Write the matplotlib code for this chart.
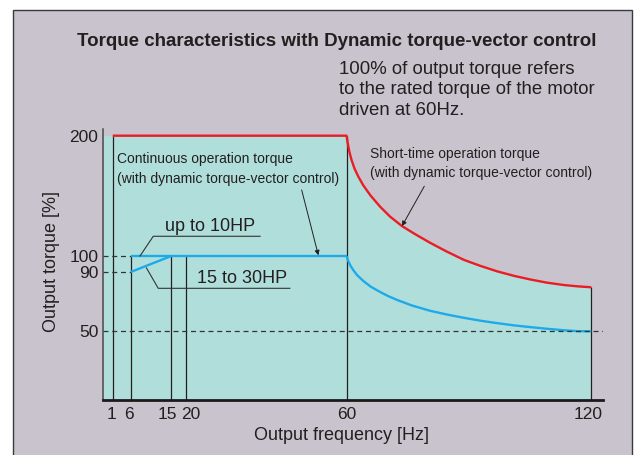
import numpy as np
import matplotlib
matplotlib.use("Agg")
import matplotlib.pyplot as plt
from matplotlib.patches import Rectangle
from matplotlib.transforms import ScaledTranslation

plt.rcParams['font.family'] = ['Liberation Sans', 'DejaVu Sans']

# ---------------- data ----------------
title = "Torque characteristics with Dynamic torque-vector control"
note_lines = ["100% of output torque refers",
              "to the rated torque of the motor",
              "driven at 60Hz."]

x_ticks = [1, 6, 15, 20, 60, 120]
x_tick_labels = ["1", "6", "15", "20", "60", "120"]
y_ticks = [50, 90, 100, 200]
y_tick_labels = ["50", "90", "100", "200"]

# short-time operation torque (red)
red_f = [1, 60, 60.27, 60.66, 61.23, 61.96, 62.94, 64.14, 65.88, 68.26, 70.66, 73.58, 76.79,
         80.54, 84.39, 88.75, 92.72, 96.94, 101.05, 105.15, 109.14, 113.33, 116.74, 120]
red_t = [200, 200, 194.3, 187.3, 179.8, 172.7, 165.7, 158.6, 150.3, 140.9, 132.8, 124.9, 118.2,
         110.9, 104.0, 97.6, 93.9, 90.4, 87.4, 84.9, 82.8, 81.2, 80.3, 79.7]

# continuous operation torque (blue)
blue_up10_f = [6, 60]
blue_up10_t = [100, 100]
blue_15_30_f = [6, 15]
blue_15_30_t = [90, 100]
blue_decay_f = [60, 60.47, 60.98, 61.69, 62.57, 64.14, 66.0, 68.26, 70.17, 72.35, 76.05,
                80.54, 84.63, 88.75, 92.72, 96.94, 101.05, 105.15, 109.14, 113.33, 116.74, 120]
blue_decay_t = [100, 96.6, 93.9, 91.1, 88.0, 83.9, 80.0, 76.5, 73.8, 71.2, 67.4,
                63.8, 61.3, 59.1, 57.2, 55.5, 54.0, 52.8, 51.7, 50.7, 50.1, 50.0]

# vertical guide lines (frequency, top torque)
guide_f = [1, 6, 15, 20, 60, 120]
guide_top = [200, 100, 100, 100, 200, 79.7]

# ---------------- style ----------------
BG = '#c9c3cd'
TEAL = '#b0dfdb'
RED = '#ec1c24'
BLUE = '#1caaea'
INK = '#231f20'

W, H = 635, 455
fig = plt.figure(figsize=(W / 100, H / 100), dpi=100)
fig.patch.set_facecolor('white')
fig.patches.append(Rectangle((13.3 / W, -0.01), (632.3 - 13.3) / W, 1 - 10 / H + 0.01,
                             transform=fig.transFigure, facecolor=BG,
                             edgecolor='#3a3a3a', lw=1.0, zorder=-10))

# schematic (piecewise-linear) axis scales
x_anchor_data = [-100, 0, 1, 6, 15, 20, 60, 120, 300]
x_anchor_px = [103.3 - 400, 103.3, 112.7, 130.7, 171.3, 185.7, 346.5, 591.3, 591.3 + 180 * 4.08]
y_anchor_data = [-100, 0, 50, 90, 100, 200, 400]
y_anchor_px = [-136, 0, 68.2, 127.5, 143.5, 263.8, 263.8 + 240.6]


def xf(v):
    return np.interp(v, x_anchor_data, x_anchor_px)


def xi(v):
    return np.interp(v, x_anchor_px, x_anchor_data)


def yf(v):
    return np.interp(v, y_anchor_data, y_anchor_px)


def yi(v):
    return np.interp(v, y_anchor_px, y_anchor_data)


ax = fig.add_axes([103.3 / W, (H - 399.5) / H, (603.3 - 103.3) / W, 270.5 / H])
ax.set_facecolor('none')
ax.set_xscale('function', functions=(xf, xi))
ax.set_yscale('function', functions=(yf, yi))
ax.set_xlim(0, 122.94)
ax.set_ylim(0, 205.57)

# teal area
fill_f = np.r_[0, red_f]
fill_t = np.r_[200, red_t]
ax.fill_between(fill_f, fill_t, 0, color=TEAL, lw=0, zorder=1)

# guide lines
ax.vlines(guide_f, 0, guide_top, color=INK, lw=0.9, zorder=2)

# dashed reference lines
ax.hlines([100, 90], 0, 6, color='#333333', lw=0.9, linestyles=(0, (4, 3)), zorder=2)
ax.hlines(50, 0, 122.94, color='#333333', lw=0.9, linestyles=(0, (4, 3)), zorder=4)

# curves
ax.plot(red_f, red_t, color=RED, lw=1.7, zorder=3, solid_capstyle='butt', solid_joinstyle='round')
ax.plot(blue_up10_f, blue_up10_t, color=BLUE, lw=1.7, zorder=3, solid_capstyle='butt')
ax.plot(blue_15_30_f, blue_15_30_t, color=BLUE, lw=1.7, zorder=3, solid_capstyle='butt')
ax.plot(blue_decay_f, blue_decay_t, color=BLUE, lw=1.7, zorder=3, solid_capstyle='butt', solid_joinstyle='round')

# spines
for s in ['top', 'right']:
    ax.spines[s].set_visible(False)
ax.spines['left'].set_color('#4a4a4a')
ax.spines['left'].set_linewidth(1.1)
ax.spines['bottom'].set_color('#1a1a1a')
ax.spines['bottom'].set_linewidth(2.0)
ax.spines['left'].set_zorder(5)
ax.spines['bottom'].set_zorder(5)

ax.set_xticks(x_ticks, x_tick_labels)
ax.set_yticks(y_ticks, y_tick_labels)
ax.minorticks_off()
ax.tick_params(axis='both', length=0, labelsize=12.5, labelcolor=INK)
ax.tick_params(axis='x', pad=5.5)
ax.tick_params(axis='y', pad=3.5)
x_label_shift = {"15": -3.6, "20": 5.0, "1": -1.0, "6": -1.4, "120": -2.8}
for lab in ax.get_xticklabels():
    dx = x_label_shift.get(lab.get_text(), 0)
    if dx:
        lab.set_transform(lab.get_transform() + ScaledTranslation(dx / 100, 0, fig.dpi_scale_trans))

# axis labels
fig.text(342 / W, 1 - 436 / H, "Output frequency [Hz]", ha='center', va='center',
         fontsize=13, color=INK)
fig.text(52 / W, 1 - 262 / H, "Output torque [%]", ha='center', va='center',
         rotation=90, fontsize=13, color=INK)

# title and note
fig.text(77 / W, 1 - 41 / H, title, ha='left', va='center', fontsize=13.5,
         fontweight='bold', color=INK)
for i, line in enumerate(note_lines):
    fig.text(339.3 / W, 1 - (69.5 + 20.5 * i) / H, line, ha='left', va='center',
             fontsize=13.4, color=INK)

# annotations
ax.text(2.28, 180.4, "Continuous operation torque", ha='left', va='center', fontsize=10, color=INK, zorder=6)
ax.text(2.28, 164.0, "(with dynamic torque-vector control)", ha='left', va='center', fontsize=10, color=INK, zorder=6)
ax.text(65.76, 184.5, "Short-time operation torque", ha='left', va='center', fontsize=10, color=INK, zorder=6)
ax.text(65.76, 168.6, "(with dynamic torque-vector control)", ha='left', va='center', fontsize=10, color=INK, zorder=6)

arrow = dict(arrowstyle='-|>', color=INK, lw=0.7, mutation_scale=7, shrinkA=0, shrinkB=0)
ax.annotate('', xy=(53.0, 100.6), xytext=(48.85, 154.9), arrowprops=arrow, zorder=6)
ax.annotate('', xy=(73.6, 124.9), xytext=(79.07, 158.0), arrowprops=arrow, zorder=6)

# HP labels with leaders
ax.text(26.0, 124.9, "up to 10HP", ha='center', va='center', fontsize=13, color=INK, zorder=6)
ax.plot([8.06, 11.0, 38.5], [100, 116.4, 116.4], color='#333333', lw=0.8, zorder=6)
ax.text(34.1, 85.3, "15 to 30HP", ha='center', va='center', fontsize=13, color=INK, zorder=6)
ax.plot([9.5, 12.1, 45.9], [92.5, 79.0, 79.0], color='#333333', lw=0.8, zorder=6)

fig.savefig('out.png', dpi=100, facecolor=fig.get_facecolor())
